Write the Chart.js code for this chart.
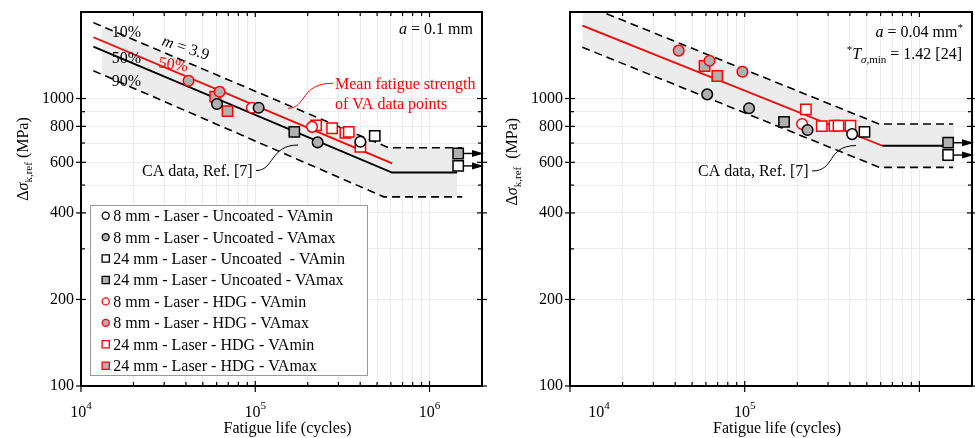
<!DOCTYPE html>
<html>
<head>
<meta charset="utf-8">
<title>Fatigue strength of VA data points</title>
<script src="https://cdn.jsdelivr.net/npm/chart.js@4.4.1/dist/chart.umd.min.js"></script>
<style>
    html, body { margin: 0; padding: 0; background: #fff; }
    #wrap { position: relative; width: 975px; height: 438px; }
    #chartLeft { position: absolute; left: 0; top: 0; }
    #chartRight { position: absolute; left: 488px; top: 0; }
</style>
</head>
<body>
<div id="wrap">
    <canvas id="chartLeft" width="488" height="438"></canvas>
    <canvas id="chartRight" width="487" height="438"></canvas>
</div>
<script>
// ---- values ----
const seriesLabels = [
    '8 mm - Laser - Uncoated - VAmin',
    '8 mm - Laser - Uncoated - VAmax',
    '24 mm - Laser - Uncoated  - VAmin',
    '24 mm - Laser - Uncoated - VAmax',
    '8 mm - Laser - HDG - VAmin',
    '8 mm - Laser - HDG - VAmax',
    '24 mm - Laser - HDG - VAmin',
    '24 mm - Laser - HDG - VAmax'
];

const xTickValues = [10000, 20000, 30000, 40000, 50000, 60000, 70000, 80000, 90000,
    100000, 200000, 300000, 400000, 500000, 600000, 700000, 800000, 900000, 1000000, 2000000];
const xMajorValues = [10000, 100000, 1000000];
const yTickValues = [100, 200, 300, 400, 500, 600, 700, 800, 900, 1000, 2000];
const yLabelValues = [100, 200, 400, 600, 800, 1000];

// left panel: a = 0.1 mm   ([cycles, MPa])
const leftUncoated8Min = [[401000, 707]];
const leftUncoated8Max = [[60300, 957], [104500, 929], [228000, 704]];
const leftUncoated24Min = [[485000, 742]];
const leftUncoated24Max = [[167500, 766]];
const leftHdg8Min = [[95700, 929], [211800, 797]];
const leftHdg8Max = [[41400, 1153], [62400, 1056]];
const leftHdg24Min = [[223300, 807], [276000, 788], [329000, 760], [344000, 766], [401000, 679]];
const leftHdg24Max = [[58900, 1015], [69300, 904]];
const leftRunout24Min = [[1460000, 583]];
const leftRunout24Max = [[1460000, 644]];

const leftCaMean = [[11770, 1515], [610000, 553], [1440000, 553]];
const leftCa10 = [[11770, 1837], [584000, 674], [1540000, 674]];
const leftCa90 = [[11770, 1250], [546000, 455], [1540000, 455]];
const leftVaMean = [[11770, 1634], [610000, 595]];
const leftBandTop = [[13150, 1780], [584000, 674], [1440000, 674]];
const leftBandBottom = [[13150, 1217], [546000, 455], [1440000, 455]];

// right panel: a = 0.04 mm
const rightUncoated8Min = [[412000, 752]];
const rightUncoated8Max = [[61000, 1034], [105900, 925], [229000, 777]];
const rightUncoated24Min = [[485000, 766]];
const rightUncoated24Max = [[168000, 830]];
const rightHdg8Min = [[213000, 815]];
const rightHdg8Max = [[41900, 1468], [62900, 1354], [97000, 1240]];
const rightHdg24Min = [[224000, 917], [276000, 802], [326000, 804], [344000, 804], [403000, 804]];
const rightHdg24Max = [[58900, 1298], [69700, 1198]];
const rightRunout24Min = [[1460000, 636]];
const rightRunout24Max = [[1460000, 702]];

const rightCaFlat = [[613000, 685], [1440000, 685]];
const rightVaMean = [[11770, 1793], [613000, 685]];
const rightCa10 = [[11770, 2133], [591000, 815], [1560000, 815]];
const rightCa90 = [[11770, 1508], [591000, 576], [1560000, 576]];
const rightBandTop = [[11770, 2133], [591000, 815], [1580000, 815]];
const rightBandBottom = [[11770, 1508], [591000, 576], [1580000, 576]];

// ---- styling ----
const BLACK = '#000000', RED = '#ff0000', GREY = '#b0b0b0', WHITE = '#ffffff', BAND = '#ececec';
const FONT = '"Liberation Serif", "Times New Roman", serif';

const markerStyles = [
    { edge: BLACK, face: WHITE, shape: 'circle' },
    { edge: BLACK, face: GREY, shape: 'circle' },
    { edge: BLACK, face: WHITE, shape: 'rect' },
    { edge: BLACK, face: GREY, shape: 'rect' },
    { edge: RED, face: WHITE, shape: 'circle' },
    { edge: RED, face: GREY, shape: 'circle' },
    { edge: RED, face: WHITE, shape: 'rect' },
    { edge: RED, face: GREY, shape: 'rect' }
];

const toXY = (pts) => pts.map(([x, y]) => ({ x, y }));

function markerDataset(points, k, runout) {
    const s = markerStyles[k];
    const r = s.shape === 'rect' ? 7.3 : 5.3;
    return {
        label: seriesLabels[k],
        data: toXY(points),
        showLine: false,
        pointStyle: s.shape,
        pointRadius: r,
        pointHoverRadius: r,
        pointBorderWidth: 1.5,
        pointBorderColor: s.edge,
        pointBackgroundColor: s.face,
        borderColor: s.edge,
        backgroundColor: s.face,
        fill: false,
        order: 1,
        runout: !!runout
    };
}

function lineDataset(points, color, dashed, order) {
    return {
        data: toXY(points),
        showLine: true,
        borderColor: color,
        borderWidth: dashed ? 1.6 : 1.8,
        borderDash: dashed ? [8, 5] : [],
        pointRadius: 0,
        pointHoverRadius: 0,
        fill: false,
        order: order
    };
}

function bandDatasets(top, bottom) {
    return [
        { data: toXY(top), borderWidth: 0, borderColor: 'rgba(0,0,0,0)', pointRadius: 0,
          pointHoverRadius: 0, fill: '+1', backgroundColor: BAND, order: 20 },
        { data: toXY(bottom), borderWidth: 0, borderColor: 'rgba(0,0,0,0)', pointRadius: 0,
          pointHoverRadius: 0, fill: false, order: 21 }
    ];
}

// ---- drawing helpers ----
function fontStr(size, style) {
    return (style || 'normal') + ' ' + size + 'px ' + FONT;
}

function drawRich(ctx, parts, x, y, align) {
    let total = 0;
    parts.forEach(p => {
        ctx.font = fontStr(p.size || 16, p.style);
        p.w = ctx.measureText(p.t).width;
        total += p.w;
    });
    let cx = align === 'center' ? x - total / 2 : align === 'right' ? x - total : x;
    ctx.textAlign = 'left';
    ctx.textBaseline = 'alphabetic';
    parts.forEach(p => {
        ctx.font = fontStr(p.size || 16, p.style);
        ctx.fillText(p.t, cx, y + (p.dy || 0));
        cx += p.w;
    });
}

function drawMarker(ctx, shape, x, y, r) {
    ctx.beginPath();
    if (shape === 'circle') {
        ctx.arc(x, y, r, 0, Math.PI * 2);
    } else {
        ctx.rect(x - r, y - r, 2 * r, 2 * r);
    }
    ctx.fill();
    ctx.stroke();
}

function segment(ctx, x1, y1, x2, y2) {
    ctx.beginPath();
    ctx.moveTo(x1, y1);
    ctx.lineTo(x2, y2);
    ctx.stroke();
}

function noAxisPadding(axis) {
    axis.paddingTop = 0;
    axis.paddingBottom = 0;
    axis.paddingLeft = 0;
    axis.paddingRight = 0;
}

// panel decorations: frame, ticks, labels, notes, legend, run-out arrows
function makeDecor(panel) {
    return {
        id: 'decor',
        afterDatasetsDraw(chart) {
            const ctx = chart.ctx, a = chart.chartArea;
            ctx.save();
            ctx.strokeStyle = BLACK;
            ctx.fillStyle = BLACK;
            ctx.lineWidth = 1.4;
            chart.data.datasets.forEach((ds, i) => {
                if (!ds.runout) return;
                chart.getDatasetMeta(i).data.forEach(pt => {
                    const tip = a.right + 2;
                    segment(ctx, pt.x + 5.5, pt.y, tip - 10, pt.y);
                    ctx.beginPath();
                    ctx.moveTo(tip, pt.y);
                    ctx.lineTo(tip - 12, pt.y - 3.5);
                    ctx.lineTo(tip - 12, pt.y + 3.5);
                    ctx.closePath();
                    ctx.fill();
                });
            });
            ctx.restore();
        },
        afterDraw(chart) {
            const ctx = chart.ctx, a = chart.chartArea;
            const xs = chart.scales.x, ys = chart.scales.y;
            ctx.save();

            // frame and ticks
            ctx.strokeStyle = BLACK;
            ctx.lineWidth = 2;
            ctx.strokeRect(a.left, a.top, a.right - a.left, a.bottom - a.top);
            ctx.lineWidth = 1.2;
            xTickValues.forEach(v => {
                const px = xs.getPixelForValue(v);
                const major = xMajorValues.includes(v);
                segment(ctx, px, a.bottom - (major ? 5 : 4), px, a.bottom + (major ? 6 : 0));
                segment(ctx, px, a.top, px, a.top + (major ? 5 : 4));
            });
            yTickValues.forEach(v => {
                const py = ys.getPixelForValue(v);
                const major = yLabelValues.includes(v);
                segment(ctx, a.left - (major ? 5 : 0), py, a.left + (major ? 5 : 4), py);
                segment(ctx, a.right - (major ? 5 : 4), py, a.right + (major ? 5 : 0), py);
            });

            // x tick labels 10^n
            ctx.fillStyle = BLACK;
            panel.xLabels.forEach(([v, nudge]) => {
                const px = xs.getPixelForValue(v) + nudge;
                const exp = String(Math.round(Math.log10(v)));
                drawRich(ctx, [{ t: '10' }, { t: exp, size: 11, dy: -8 }], px, a.bottom + 31, 'center');
            });

            // axis titles
            drawRich(ctx, [{ t: 'Fatigue life (cycles)' }], (a.left + a.right) / 2 + 6, a.bottom + 46.5, 'center');
            ctx.save();
            ctx.translate(a.left + panel.yTitle[0], a.top + panel.yTitle[1]);
            ctx.rotate(-Math.PI / 2);
            drawRich(ctx, [
                { t: '\u0394' }, { t: '\u03c3', style: 'italic' },
                { t: 'k,ref', size: 11, dy: 4 }, { t: panel.yTitleGap + '(MPa)' }
            ], 0, 5.5, 'center');
            ctx.restore();

            // notes
            panel.notes.forEach(n => {
                ctx.fillStyle = n.color || BLACK;
                ctx.save();
                ctx.translate(a.left + n.at[0], a.top + n.at[1]);
                if (n.rot) ctx.rotate(n.rot * Math.PI / 180);
                drawRich(ctx, n.parts, 0, 0, n.align || 'left');
                ctx.restore();
            });

            // leader curves
            ctx.lineWidth = 1;
            panel.leaders.forEach(l => {
                const p = l.pts.map(([x, y]) => [a.left + x, a.top + y]);
                ctx.strokeStyle = l.color;
                ctx.beginPath();
                ctx.moveTo(p[0][0], p[0][1]);
                ctx.bezierCurveTo(p[1][0], p[1][1], p[2][0], p[2][1], p[3][0], p[3][1]);
                ctx.stroke();
            });

            // legend box
            if (panel.legend) {
                const bx = a.left + 9, by = a.top + 193;
                ctx.fillStyle = WHITE;
                ctx.fillRect(bx, by, 277, 170);
                ctx.strokeStyle = '#9a9a9a';
                ctx.lineWidth = 1;
                ctx.strokeRect(bx + 0.5, by + 0.5, 277, 170);
                seriesLabels.forEach((label, i) => {
                    const s = markerStyles[i];
                    const cy = by + 10.7 + i * 21.43;
                    ctx.fillStyle = s.face;
                    ctx.strokeStyle = s.edge;
                    ctx.lineWidth = 1.3;
                    drawMarker(ctx, s.shape, bx + 15.7, cy, s.shape === 'circle' ? 3.5 : 3.6);
                    ctx.fillStyle = BLACK;
                    drawRich(ctx, [{ t: label }], bx + 23.3, cy + 5.5, 'left');
                });
            }
            ctx.restore();
        }
    };
}

function makeChart(canvasId, datasets, panel, padRight) {
    const ctx = document.getElementById(canvasId).getContext('2d');
    return new Chart(ctx, {
        type: 'line',
        data: { datasets: datasets },
        options: {
            responsive: false,
            animation: false,
            devicePixelRatio: 1,
            layout: { autoPadding: false, padding: { left: 0, top: 12, right: padRight, bottom: 0 } },
            plugins: { legend: { display: false }, tooltip: { enabled: false } },
            events: [],
            scales: {
                x: {
                    type: 'logarithmic',
                    min: 10000,
                    max: 2000000,
                    afterBuildTicks: axis => { axis.ticks = xTickValues.map(v => ({ value: v })); },
                    afterFit: axis => { axis.height = 52; noAxisPadding(axis); },
                    ticks: { display: false },
                    grid: { color: '#ececec', lineWidth: 1, drawTicks: false },
                    border: { display: false }
                },
                y: {
                    type: 'logarithmic',
                    min: 100,
                    max: 2000,
                    afterBuildTicks: axis => { axis.ticks = yTickValues.map(v => ({ value: v })); },
                    afterFit: axis => { axis.width = panel.axisWidth; noAxisPadding(axis); },
                    ticks: {
                        autoSkip: false,
                        padding: 7,
                        color: BLACK,
                        font: { family: FONT, size: 16 },
                        callback: v => yLabelValues.includes(v) ? String(v) : ''
                    },
                    grid: { color: '#ececec', lineWidth: 1, drawTicks: false },
                    border: { display: false }
                }
            }
        },
        plugins: [makeDecor(panel)]
    });
}

window.onload = () => {
    const leftSets = [
        markerDataset(leftUncoated8Min, 0),
        markerDataset(leftUncoated8Max, 1),
        markerDataset(leftUncoated24Min, 2),
        markerDataset(leftUncoated24Max, 3),
        markerDataset(leftHdg8Min, 4),
        markerDataset(leftHdg8Max, 5),
        markerDataset(leftHdg24Min, 6),
        markerDataset(leftHdg24Max, 7),
        markerDataset(leftRunout24Min, 2, true),
        markerDataset(leftRunout24Max, 3, true),
        lineDataset(leftVaMean, RED, false, 9),
        lineDataset(leftCaMean, BLACK, false, 10),
        lineDataset(leftCa10, BLACK, true, 11),
        lineDataset(leftCa90, BLACK, true, 11),
        ...bandDatasets(leftBandTop, leftBandBottom)
    ];
    const rightSets = [
        markerDataset(rightUncoated8Min, 0),
        markerDataset(rightUncoated8Max, 1),
        markerDataset(rightUncoated24Min, 2),
        markerDataset(rightUncoated24Max, 3),
        markerDataset(rightHdg8Min, 4),
        markerDataset(rightHdg8Max, 5),
        markerDataset(rightHdg24Min, 6),
        markerDataset(rightHdg24Max, 7),
        markerDataset(rightRunout24Min, 2, true),
        markerDataset(rightRunout24Max, 3, true),
        lineDataset(rightVaMean, RED, false, 9),
        lineDataset(rightCaFlat, BLACK, false, 10),
        lineDataset(rightCa10, BLACK, true, 11),
        lineDataset(rightCa90, BLACK, true, 11),
        ...bandDatasets(rightBandTop, rightBandBottom)
    ];

    const leftPanel = {
        axisWidth: 81,
        xLabels: [[10000, 0], [100000, 0], [1000000, 0]],
        yTitle: [-59, 147],
        yTitleGap: ' ',
        legend: true,
        notes: [
            { at: [30.7, 25], parts: [{ t: '10%' }] },
            { at: [30.7, 50.6], parts: [{ t: '50%' }] },
            { at: [30.7, 74], parts: [{ t: '90%' }] },
            { at: [104.7, 35.7], rot: 18, align: 'center', parts: [{ t: 'm', style: 'italic', dy: 5 }, { t: ' = 3.9', dy: 5 }] },
            { at: [92.3, 52.3], rot: 8, align: 'center', color: RED, parts: [{ t: '50%', dy: 5 }] },
            { at: [392, 22], align: 'right', parts: [{ t: 'a', style: 'italic' }, { t: ' = 0.1 mm' }] },
            { at: [254, 77], color: RED, parts: [{ t: 'Mean fatigue strength' }] },
            { at: [254, 97], color: RED, parts: [{ t: 'of VA data points' }] },
            { at: [61, 163.5], parts: [{ t: 'CA data, Ref. [7]' }] }
        ],
        leaders: [
            { color: BLACK, pts: [[175, 158.5], [193, 159], [189, 133], [217, 133]] },
            { color: RED, pts: [[207, 96.3], [226, 96], [219, 71], [252, 71.3]] }
        ]
    };
    const rightPanel = {
        axisWidth: 82,
        xLabels: [[10000, 29], [100000, 0]],
        yTitle: [-58.3, 149.7],
        yTitleGap: '  ',
        legend: false,
        notes: [
            { at: [393, 25], align: 'right', parts: [{ t: 'a', style: 'italic' }, { t: ' = 0.04 mm' }, { t: '*', size: 11, dy: -6 }] },
            { at: [392, 47], align: 'right', parts: [
                { t: '*', size: 11, dy: -6 }, { t: 'T', style: 'italic' },
                { t: '\u03c3', style: 'italic', size: 11, dy: 4 }, { t: ',min', size: 11, dy: 4 },
                { t: ' = 1.42 [24]' }
            ] },
            { at: [128, 164], parts: [{ t: 'CA data, Ref. [7]' }] }
        ],
        leaders: [
            { color: BLACK, pts: [[242, 159], [266, 159], [256, 134], [286, 133.5]] }
        ]
    };

    makeChart('chartLeft', leftSets, leftPanel, 6);
    makeChart('chartRight', rightSets, rightPanel, 3);
};
</script>
</body>
</html>
